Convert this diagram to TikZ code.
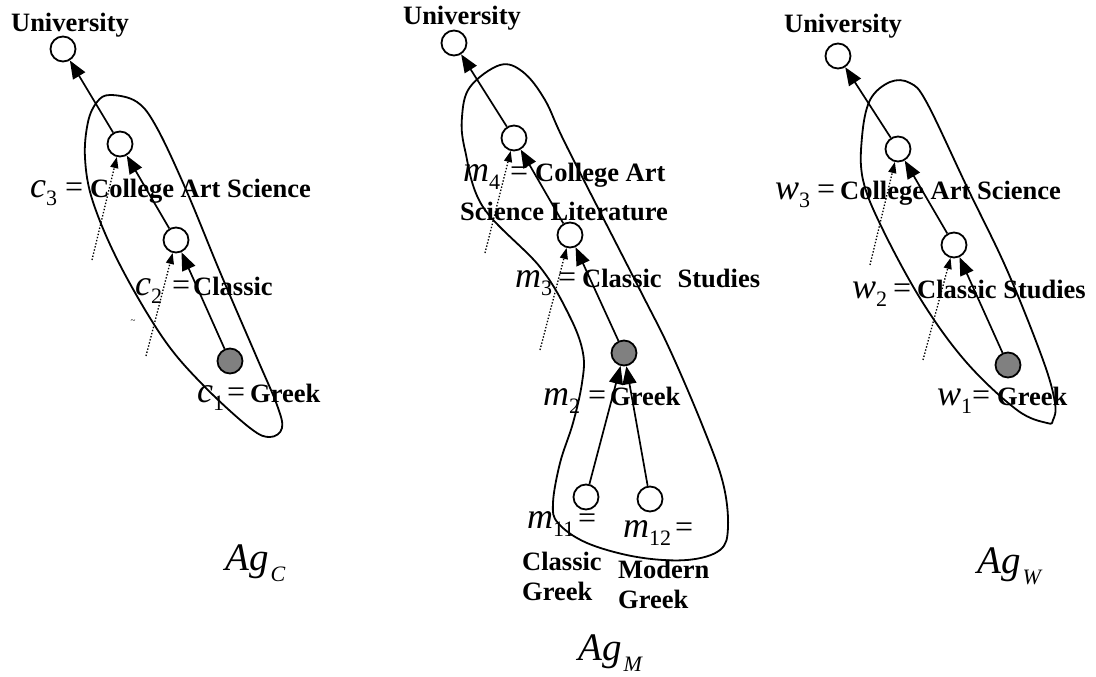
\documentclass[tikz,border=0pt]{standalone}
\usepackage{fontspec}
\setmainfont{Liberation Serif}
\usetikzlibrary{arrows.meta}
\newcommand{\vv}[2]{{\fontsize{36}{36}\selectfont\itshape #1}\raisebox{-8pt}{\fontsize{22}{22}\selectfont #2}}
\newcommand{\eqs}{{\fontsize{32}{32}\selectfont =}}
\newcommand{\lab}[5]{\makebox[#1][l]{\vv{#2}{#3}}\makebox[#4][l]{\eqs}\textbf{#5}}
\newcommand{\agl}[1]{{\fontsize{39}{39}\selectfont\itshape Ag\hspace{2pt}\raisebox{-11pt}{\fontsize{22}{22}\selectfont #1}}}
\tikzset{
  vnode/.style={circle, draw, line width=1.8pt, minimum size=25pt, inner sep=0pt, fill=white},
  gnode/.style={vnode, fill=black!50},
  txt/.style={font=\fontsize{26.5}{26.5}\selectfont, inner sep=0pt, anchor=base west},
  ctxt/.style={txt, anchor=base},
  link/.style={line width=1.7pt, -{Triangle[length=18pt,width=14pt]}},
  dlink/.style={line width=1.3pt, dash pattern=on 1.4pt off 1.8pt, -{Triangle[length=11pt,width=8pt]}},
  encl/.style={line width=1.8pt}
}
\begin{document}
\begin{tikzpicture}[x=1pt,y=-1pt]
\useasboundingbox (0,0) rectangle (1096,677);
% enclosures
\draw[encl] plot[smooth cycle, tension=0.6] coordinates {(110,95) (137,102) (157,128) (187,192) (220,272) (257,358) (277,405) (282,428) (270,437) (250,428) (203,385) (163,338) (120,265) (93,202) (85,158) (88,122) (97,102)};
\draw[encl] plot[smooth cycle, tension=0.6] coordinates {(500,65) (523,72) (545,100) (567,147) (640,290) (670,350) (703,427) (723,483) (728,527) (720,550) (687,560) (637,557) (587,543) (558,523) (553,503) (560,463) (573,423) (582,383) (583,353) (570,317) (540,267) (483,207) (465,150) (462,117) (470,87)};
\draw[encl] plot[smooth cycle, tension=0.6] coordinates {(890,82) (910,83) (927,103) (967,187) (1007,270) (1043,360) (1055,403) (1053,420) (1047,423) (1017,410) (967,363) (923,303) (883,230) (863,180) (862,137) (870,100)};
% nodes left
\node[vnode] (uC) at (63,49) {};
\node[vnode] (c3) at (120,144) {};
\node[vnode] (c2) at (176,240) {};
\node[gnode] (c1) at (230,361) {};
% nodes middle
\node[vnode] (uM) at (454,43) {};
\node[vnode] (m4) at (514,138) {};
\node[vnode] (m3) at (570,235) {};
\node[gnode] (m2) at (624,353) {};
\node[vnode] (m11) at (586,497) {};
\node[vnode] (m12) at (650,499) {};
% nodes right
\node[vnode] (uW) at (838,56) {};
\node[vnode] (w3) at (898,149) {};
\node[vnode] (w2) at (954,245) {};
\node[gnode] (w1) at (1008,365) {};
% dotted origins
\coordinate (dc3) at (92,260);
\coordinate (dc2) at (146,356);
\coordinate (dm4) at (485,253);
\coordinate (dm3) at (540,350);
\coordinate (dw3) at (870,265);
\coordinate (dw2) at (923,360);
% connectors
\draw[link] (c1) -- (c2);
\draw[link] (c2) -- (c3);
\draw[link] (c3) -- (uC);
\draw[link] (m11) -- (m2);
\draw[link] (m12) -- (m2);
\draw[link] (m2) -- (m3);
\draw[link] (m3) -- (m4);
\draw[link] (m4) -- (uM);
\draw[link] (w1) -- (w2);
\draw[link] (w2) -- (w3);
\draw[link] (w3) -- (uW);
\draw[dlink] (dc3) -- (c3);
\draw[dlink] (dc2) -- (c2);
\draw[dlink] (dm4) -- (m4);
\draw[dlink] (dm3) -- (m3);
\draw[dlink] (dw3) -- (w3);
\draw[dlink] (dw2) -- (w2);
% labels left
\node[ctxt] (tuC) at (70,32) {\textbf{University}};
\node[txt] (lc3) at (30,197) {\lab{35pt}{c}{3}{25pt}{College Art Science}};
\node[txt] (lc2) at (135,295) {\lab{37pt}{c}{2}{21pt}{Classic}};
\node[txt] (lc1) at (197,402) {\lab{30pt}{c}{1}{23pt}{Greek}};
\node[font=\fontsize{9}{9}\selectfont, inner sep=0pt] (tld) at (133,322) {\textasciitilde};
\node[txt] (agC) at (225,570) {\agl{C}};
% labels middle
\node[ctxt] (tuM) at (462,25) {\textbf{University}};
\node[txt] (lm4) at (463,181) {\lab{47pt}{m}{4}{25pt}{College Art}};
\node[txt] (lm4b) at (460,220) {\textbf{Science Literature}};
\node[txt] (lm3) at (515,287) {\lab{43pt}{m}{3}{24pt}{Classic\hspace{16pt}Studies}};
\node[txt] (lm2) at (543,405) {\lab{45pt}{m}{2}{22pt}{Greek}};
\node[txt] (lm11) at (527,528) {\makebox[51pt][l]{\vv{m}{11}}\eqs};
\node[txt] (lm11a) at (522,570) {\textbf{Classic}};
\node[txt] (lm11b) at (522,600) {\textbf{Greek}};
\node[txt] (lm12) at (623,537) {\makebox[52pt][l]{\vv{m}{12}}\eqs};
\node[txt] (lm12a) at (618,578) {\textbf{Modern}};
\node[txt] (lm12b) at (618,608) {\textbf{Greek}};
\node[txt] (agM) at (578,660) {\agl{M}};
% labels right
\node[ctxt] (tuW) at (843,33) {\textbf{University}};
\node[txt] (lw3) at (775,199) {\lab{42pt}{w}{3}{23pt}{College Art Science}};
\node[txt] (lw2) at (852,298) {\lab{41pt}{w}{2}{24pt}{Classic Studies}};
\node[txt] (lw1) at (937,405) {\lab{35pt}{w}{1}{25pt}{Greek}};
\node[txt] (agW) at (977,573) {\agl{W}};
\end{tikzpicture}
\end{document}
